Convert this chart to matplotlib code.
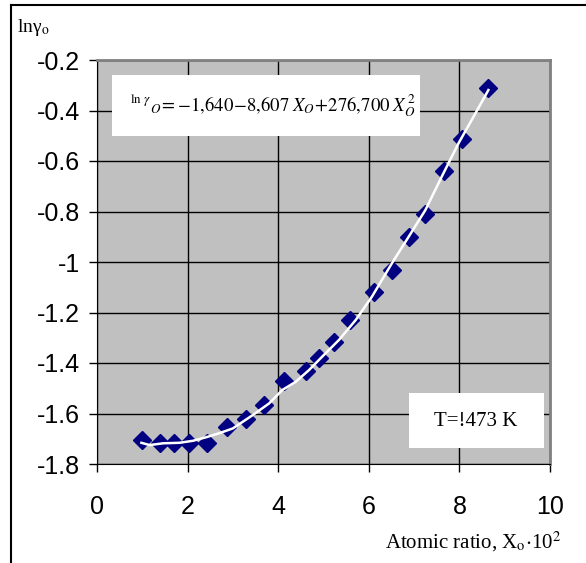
import numpy as np
import matplotlib
matplotlib.use("Agg")
import matplotlib.pyplot as plt
from matplotlib.lines import Line2D
from matplotlib.patches import Rectangle

# ================================
# DATA
# ================================
x_obs = [1.00, 1.40, 1.69, 2.03, 2.42, 2.86, 3.29, 3.69, 4.12, 4.61,
         4.90, 5.23, 5.58, 6.11, 6.51, 6.88, 7.23, 7.67, 8.05, 8.64]
y_obs = [-1.705, -1.716, -1.716, -1.716, -1.716, -1.652, -1.622, -1.566, -1.470, -1.430,
         -1.381, -1.316, -1.231, -1.118, -1.032, -0.902, -0.810, -0.638, -0.513, -0.312]

# white trend line (smoothed, as drawn)
x_fit = [0.98, 1.16, 1.46, 1.82, 2.12, 2.41, 2.70, 3.00, 3.44, 3.80, 4.09, 4.39, 4.68,
         4.97, 5.34, 5.71, 6.07, 6.51, 6.88, 7.25, 7.61, 7.98, 8.27, 8.56, 8.64]
y_fit = [-1.716, -1.725, -1.718, -1.716, -1.708, -1.694, -1.678, -1.659, -1.606, -1.560,
         -1.507, -1.474, -1.428, -1.375, -1.309, -1.230, -1.137, -1.005, -0.900, -0.794,
         -0.662, -0.530, -0.438, -0.345, -0.319]

x_ticks = [0, 2, 4, 6, 8, 10]
y_ticks = [-1.8, -1.6, -1.4, -1.2, -1, -0.8, -0.6, -0.4, -0.2]
y_tick_labels = ["-1.8", "-1.6", "-1.4", "-1.2", "-1", "-0.8", "-0.6", "-0.4", "-0.2"]

W, H = 586, 563


def fx(px):
    return px / W


def fy(py):
    return 1 - py / H


# ================================
# FIGURE
# ================================
plt.rcParams["mathtext.fontset"] = "stix"
fig = plt.figure(figsize=(W / 100, H / 100), dpi=100)
ax = fig.add_axes([fx(97), fy(464), 453 / W, 404 / H])

ax.set_facecolor("#C0C0C0")
ax.set_xlim(0, 10)
ax.set_ylim(-1.8, -0.2)
ax.set_xticks(x_ticks)
ax.set_yticks(y_ticks)
ax.set_yticklabels(y_tick_labels)
ax.tick_params(labelsize=18, direction="out", length=5.5, width=1, color="black")
ax.tick_params(axis="x", pad=17)
ax.tick_params(axis="y", pad=7)
for lab in ax.get_xticklabels() + ax.get_yticklabels():
    lab.set_fontfamily("Liberation Sans")

ax.grid(True, color="black", linewidth=1)
ax.set_axisbelow(True)
ax.spines["left"].set_color("black")
ax.spines["bottom"].set_color("black")
ax.spines["top"].set_color("#808080")
ax.spines["right"].set_color("#808080")
ax.spines["top"].set_linewidth(2)
ax.spines["right"].set_linewidth(2)

ax.plot(x_obs, y_obs, linestyle="none", marker="D", markersize=9.5,
        color="#000080", zorder=3)
ax.plot(x_fit, y_fit, color="white", linewidth=1.8, zorder=4)

# equation box
fig.add_artist(Rectangle((fx(112), fy(136)), 308 / W, 61 / H, facecolor="white",
                         edgecolor="none", transform=fig.transFigure, zorder=5))
eq = (r"$^{\ln\,\gamma}{}_{O}\!=\!-\!1{,}640\!-\!8{,}607\;X_{O}\!+\!276{,}700\;X_{O}^{\,2}$")
fig.text(fx(273), fy(106), eq, ha="center", va="center", fontsize=13.5, zorder=6)

# temperature box
fig.add_artist(Rectangle((fx(409), fy(448)), 135 / W, 55 / H, facecolor="white",
                         edgecolor="none", transform=fig.transFigure, zorder=5))
fig.text(fx(476), fy(421), "T=!473 K", ha="center", va="center",
         fontsize=15, family="Liberation Serif", zorder=6)

# axis labels
fig.text(fx(17), fy(27), r"lnγ$_{\rm o}$", ha="left", va="center",
         fontsize=14, family="Liberation Serif")
fig.text(fx(561), fy(542), r"Atomic ratio, X$_{\rm o}$$\cdot$10$^{2}$",
         ha="right", va="center", fontsize=15, family="Liberation Serif")

# outer frame (top and left only)
fig.add_artist(Line2D([fx(11), 1.0], [fy(5), fy(5)],
                      color="black", linewidth=1.5, transform=fig.transFigure))
fig.add_artist(Line2D([fx(11), fx(11)], [0.0, fy(5)],
                      color="black", linewidth=1.5, transform=fig.transFigure))

fig.savefig("out.png", dpi=100)
